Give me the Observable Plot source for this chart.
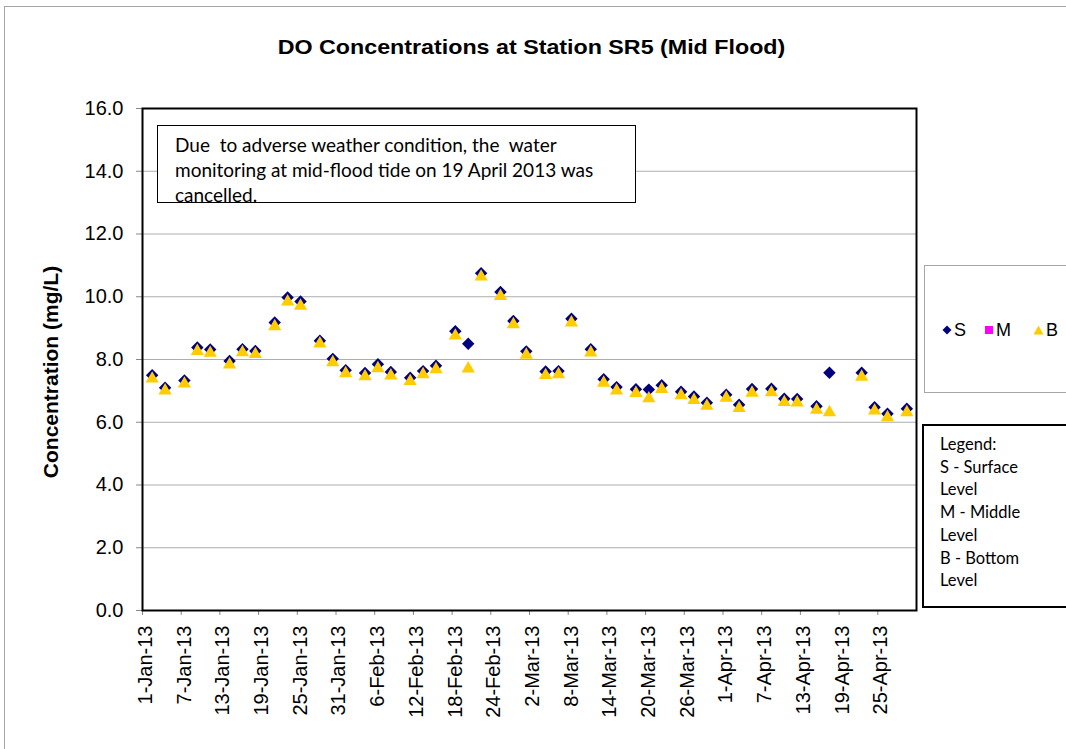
<!DOCTYPE html>
<html>
<head>
<meta charset="utf-8">
<script src="https://cdn.jsdelivr.net/npm/d3@7"></script>
<script src="https://cdn.jsdelivr.net/npm/@observablehq/plot@0.6"></script>
<style>
  html, body { margin: 0; padding: 0; background: #fff; }
  #wrap { position: relative; width: 1066px; height: 749px; overflow: hidden; font-family: "Liberation Sans", Arial, sans-serif; }
  #outer { position: absolute; left: 4px; top: 6px; width: 1100px; height: 800px; border-top: 1px solid #a6a6a6; border-left: 1px solid #a6a6a6; }
  #chart { position: absolute; left: 0; top: 0; }
  #title { position: absolute; left: 0; width: 1063px; top: 36px; text-align: center; font-weight: bold; font-size: 21px; line-height: 21px; white-space: nowrap; transform: scaleX(1.107); transform-origin: 531.5px 50%; }
  #ytitle { position: absolute; left: 50px; top: 371.5px; transform: translate(-50%, -50%) rotate(-90deg); font-weight: bold; font-size: 21px; line-height: 21px; white-space: nowrap; }
  #note { position: absolute; left: 157px; top: 125px; width: 479px; height: 78px; border: 1.5px solid #000; background: #fff; font-family: Lato, "Open Sans", sans-serif; font-size: 19px; line-height: 25px; padding: 6px 0 0 17px; box-sizing: border-box; white-space: nowrap; overflow: visible; }
  #leg1 { position: absolute; left: 924px; top: 265px; width: 150px; height: 128px; border: 1px solid #a6a6a6; box-sizing: border-box; background: #fff; }
  #leg1 .item { position: absolute; top: 53px; font-size: 18px; line-height: 22px; display: flex; align-items: center; }
  #leg1 svg { margin-right: 2px; }
  #leg2 { position: absolute; left: 922px; top: 424px; width: 150px; height: 184px; border: 2px solid #000; box-sizing: border-box; background: #fff; font-family: Lato, "Open Sans", sans-serif; font-size: 16.5px; line-height: 22.7px; padding: 7px 0 0 16px; white-space: nowrap; }
</style>
</head>
<body>
<div id="wrap">
  <div id="outer"></div>
  <div id="chart"></div>
  <div id="title">DO Concentrations at Station SR5 (Mid Flood)</div>
  <div id="ytitle">Concentration (mg/L)</div>
  <div id="note">Due&nbsp; to adverse weather condition, the&nbsp; water<br>monitoring at mid-flood tide on 19 April 2013 was<br>cancelled.</div>
  <div id="leg1"></div>
  <div id="leg2">Legend:<br>S - Surface<br>Level<br>M - Middle<br>Level<br>B - Bottom<br>Level</div>
</div>
<script>
// ---- data ----
const sampleDates = ["2013-01-02","2013-01-04","2013-01-07","2013-01-09","2013-01-11","2013-01-14","2013-01-16","2013-01-18","2013-01-21","2013-01-23","2013-01-25","2013-01-28","2013-01-30","2013-02-01","2013-02-04","2013-02-06","2013-02-08","2013-02-11","2013-02-13","2013-02-15","2013-02-18","2013-02-20","2013-02-22","2013-02-25","2013-02-27","2013-03-01","2013-03-04","2013-03-06","2013-03-08","2013-03-11","2013-03-13","2013-03-15","2013-03-18","2013-03-20","2013-03-22","2013-03-25","2013-03-27","2013-03-29","2013-04-01","2013-04-03","2013-04-05","2013-04-08","2013-04-10","2013-04-12","2013-04-15","2013-04-17","2013-04-22","2013-04-24","2013-04-26","2013-04-29"];
const surface = [7.50,7.10,7.33,8.38,8.32,7.95,8.33,8.27,9.18,9.98,9.85,8.60,8.02,7.66,7.57,7.85,7.60,7.42,7.63,7.80,8.90,8.50,10.75,10.15,9.23,8.26,7.62,7.63,9.30,8.33,7.37,7.12,7.05,7.04,7.18,6.97,6.82,6.62,6.88,6.56,7.06,7.07,6.75,6.74,6.51,7.58,7.58,6.48,6.27,6.43];
const bottom = [7.45,7.07,7.29,8.33,8.27,7.90,8.29,8.23,9.12,9.91,9.77,8.57,7.97,7.62,7.52,7.78,7.55,7.37,7.59,7.75,8.82,7.77,10.70,10.08,9.18,8.21,7.56,7.59,9.24,8.28,7.32,7.07,6.99,6.82,7.12,6.92,6.77,6.58,6.84,6.51,7.00,7.01,6.70,6.69,6.46,6.38,7.51,6.43,6.22,6.38];
const middle = []; // no middle-level data shown
const xTickDates = ["2013-01-01","2013-01-07","2013-01-13","2013-01-19","2013-01-25","2013-01-31","2013-02-06","2013-02-12","2013-02-18","2013-02-24","2013-03-02","2013-03-08","2013-03-14","2013-03-20","2013-03-26","2013-04-01","2013-04-07","2013-04-13","2013-04-19","2013-04-25"];
const yTicks = [0,2,4,6,8,10,12,14,16];
const seriesNames = ["S","M","B"];
const seriesColors = ["#000080","#FF00FF","#FFCC00"];

// ---- build ----
const months = ["Jan","Feb","Mar","Apr","May","Jun","Jul","Aug","Sep","Oct","Nov","Dec"];
const fmt = d => `${d.getUTCDate()}-${months[d.getUTCMonth()]}-13`;
const rows = sampleDates.map((d, i) => ({date: new Date(d + "T12:00:00Z"), S: surface[i], B: bottom[i]}));
const tickDates = xTickDates.map(d => new Date(d + "T00:00:00Z"));

const chart = Plot.plot({
  width: 930, height: 749,
  marginLeft: 142, marginRight: 14, marginTop: 108, marginBottom: 139,
  style: {fontFamily: "'Liberation Sans', Arial, sans-serif", fontSize: "20px", background: "transparent", overflow: "visible", color: "black"},
  x: {type: "utc", domain: [new Date("2013-01-01T00:00:00Z"), new Date("2013-05-01T00:00:00Z")]},
  y: {type: "linear", domain: [0, 16]},
  marks: [
    Plot.gridY(yTicks.filter(v => v > 0 && v < 16), {stroke: "#adadad", strokeOpacity: 1}),
    Plot.axisY(yTicks, {tickFormat: d => d.toFixed(1), tickSize: 6, tickPadding: 13, stroke: "#888", fill: "black", label: null, fontSize: 20}),
    Plot.axisX(tickDates, {tickRotate: -90, tickSize: 0, tickPadding: 15, tickFormat: fmt, fill: "black", label: null, fontSize: 20, dx: 3}),
    Plot.axisX(tickDates, {tickSize: 5, stroke: "#888", text: null, label: null}),
    Plot.dot(rows, {x: "date", y: "S", symbol: "diamond2", r: 5.6, fill: seriesColors[0]}),
    Plot.dot(rows, {x: "date", y: "B", symbol: "triangle", r: 4.9, fill: seriesColors[2], dy: 2}),
    Plot.frame({stroke: "black", strokeWidth: 2})
  ]
});
document.getElementById("chart").appendChild(chart);

// legend
const leg = document.getElementById("leg1");
const shapes = {
  S: c => `<svg width="10" height="10"><path d="M5 0.5 L9.5 5 L5 9.5 L0.5 5Z" fill="${c}"/></svg>`,
  M: c => `<svg width="10" height="10"><rect x="1" y="1" width="8" height="8" fill="${c}"/></svg>`,
  B: c => `<svg width="11" height="10"><path d="M5.5 0.5 L10.5 9.5 L0.5 9.5Z" fill="${c}"/></svg>`
};
const lefts = [17, 59, 108];
seriesNames.forEach((n, i) => {
  const el = document.createElement("div");
  el.className = "item";
  el.style.left = lefts[i] + "px";
  el.innerHTML = shapes[n](seriesColors[i]) + `<span>${n}</span>`;
  leg.appendChild(el);
});
</script>
</body>
</html>
